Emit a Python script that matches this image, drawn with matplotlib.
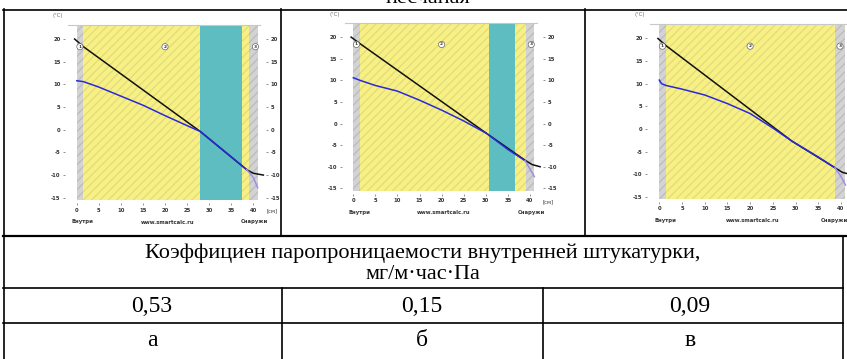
import matplotlib
matplotlib.use("Agg")
import matplotlib.pyplot as plt
from matplotlib.lines import Line2D

W, H = 847, 359

# ---- data ----
y_ticks = [-15, -10, -5, 0, 5, 10, 15, 20]
x_ticks = [0, 5, 10, 15, 20, 25, 30, 35, 40]

# layers: (start, end, kind)
layers_a = [(0, 1.5, "plaster"), (1.5, 28, "sand"), (28, 37.5, "insul"), (37.5, 39, "sand"), (39, 41, "plaster")]
layers_b = [(0, 1.5, "plaster"), (1.5, 30.7, "sand"), (30.7, 36.6, "insul"), (36.6, 39, "sand"), (39, 41, "plaster")]
layers_c = [(0, 1.5, "plaster"), (1.5, 38.7, "sand"), (38.7, 40.8, "plaster")]

# temperature (black)
temp_x_a = [-0.5, 1.5, 28, 38.5, 40, 42.3]
temp_y_a = [20, 18.3, -0.4, -8.8, -9.6, -10.0]
temp_x_b = [-0.5, 1.5, 30.2, 38.9, 40.5, 42.3]
temp_y_b = [20, 18.5, -2.3, -8.5, -9.5, -10.0]
temp_x_c = [-0.3, 1.5, 29.2, 38.7, 40.3, 41.8]
temp_y_c = [20, 18.4, -2.7, -8.6, -9.6, -10.0]

# dew point (blue)
dew_x_a = [0, 1.5, 5, 10, 15, 20, 25, 28, 33, 38.5]
dew_y_a = [10.8, 10.6, 9.4, 7.4, 5.4, 3.1, 0.9, -0.4, -4.4, -8.8]
dew_x_b = [0, 1.5, 5, 10, 15, 20, 25, 30.2, 35, 38.9]
dew_y_b = [10.6, 10.0, 8.8, 7.5, 5.4, 3.1, 0.6, -2.3, -6.0, -8.6]
dew_x_c = [0, 0.5, 1.5, 5, 10, 15, 20, 25, 29.2, 35, 38.7]
dew_y_c = [10.8, 10.0, 9.6, 8.8, 7.5, 5.6, 3.4, 0.2, -2.7, -6.2, -8.6]

# lavender tail of the dew point line
tail_x_a = [38.5, 40, 41]
tail_y_a = [-8.8, -10.5, -12.8]
tail_x_b = [38.9, 40, 41]
tail_y_b = [-8.6, -10.5, -12.3]
tail_x_c = [38.7, 40, 41]
tail_y_c = [-8.6, -10.5, -12.4]

header = "Коэффициен паропроницаемости внутренней штукатурки,\nмг/м·час·Па"
coef_values = ["0,53", "0,15", "0,09"]
case_labels = ["а", "б", "в"]
caption = "песчаная"

colors = {"plaster": "#d3d3d3", "sand": "#f7f083", "insul": "#5dbdc1"}
hatch_colors = {"plaster": "#bdbdbd", "sand": "#e4dc80", "insul": "#5dbdc1"}


def fx(px):
    return px / W


def fy(py):
    return 1 - py / H


def rect(left, top, right, bottom):
    return [fx(left), fy(bottom), (right - left) / W, (bottom - top) / H]


def pt(px):
    return px * 0.72


def draw_chart(fig, box, layers, tx, ty, dx, dy, tlx, tly, circle3_x, cut=False):
    ax = fig.add_axes(rect(*box))
    ax.set_xlim(-2, 41.6)
    ax.set_ylim(-15.5, 23.2)
    for x0, x1, kind in layers:
        ax.axvspan(x0, x1, ymin=0, ymax=1, facecolor=colors[kind],
                   edgecolor=hatch_colors[kind], hatch="////", lw=0, zorder=1)
    ax.plot(tx, ty, color="#111111", lw=1.1, zorder=3, clip_on=False)
    ax.plot(dx, dy, color="#2a2ad8", lw=1.1, zorder=4)
    ax.plot(tlx, tly, color="#9b90e6", lw=1.1, zorder=4, clip_on=False)

    for s in ["left", "right", "bottom"]:
        ax.spines[s].set_visible(False)
    ax.spines["top"].set_color("#c8c8c8")
    ax.spines["top"].set_linewidth(0.8)
    ax.spines["left"].set_position(("outward", pt(3)))
    ax.spines["right"].set_position(("outward", pt(6)))
    ax.spines["bottom"].set_position(("outward", pt(3)))

    ax.set_yticks(y_ticks)
    ax.set_xticks(x_ticks)
    ax.set_yticklabels([str(v) for v in y_ticks])
    ax.set_xticklabels([str(v) for v in x_ticks])
    ax.tick_params(axis="both", labelsize=3.8, colors="#666666", labelcolor="#333333",
                   length=pt(2.5), width=0.5, pad=pt(2))
    ax.tick_params(axis="y", left=True, right=not cut, labelleft=True, labelright=not cut)
    ax.tick_params(axis="x", top=False)
    for lab in ax.get_xticklabels() + ax.get_yticklabels():
        lab.set_fontweight("bold")

    ax.annotate("(°C)", xy=(0, 1), xycoords="axes fraction", xytext=(pt(-10), pt(9)),
                textcoords="offset points", fontsize=3.8, color="#666666",
                ha="center", va="center")
    if not cut:
        ax.annotate("[см]", xy=(44.2, 0), xycoords=("data", "axes fraction"),
                    xytext=(0, pt(-11)), textcoords="offset points", fontsize=3.8,
                    color="#333333", ha="center", va="center", annotation_clip=False)
    bottom_labels = [("Внутри", 1.3, "center"), ("www.smartcalc.ru", 20.5, "center")]
    if cut:
        bottom_labels.append(("Снаружи", 41.5, "right"))
    else:
        bottom_labels.append(("Снаружи", 40.3, "center"))
    for txt, x, ha in bottom_labels:
        ax.annotate(txt, xy=(x, 0), xycoords=("data", "axes fraction"),
                    xytext=(0, pt(-22)), textcoords="offset points", fontsize=3.8,
                    fontweight="bold", color="#333333", ha=ha, va="center",
                    annotation_clip=False)
    for txt, x in [("1", 0.7), ("2", 20), ("3", circle3_x)]:
        ax.text(x, 18.3, txt, fontsize=3.2, fontweight="bold", color="#333333",
                ha="center", va="center", zorder=6, clip_on=False,
                bbox=dict(boxstyle="circle,pad=0.25", fc="white", ec="#666666", lw=0.5))
    return ax


fig = plt.figure(figsize=(W / 100, H / 100), dpi=100)

draw_chart(fig, (68, 24.5, 260.3, 200), layers_a, temp_x_a, temp_y_a,
           dew_x_a, dew_y_a, tail_x_a, tail_y_a, 40.5)
draw_chart(fig, (344.5, 23.3, 537, 190.5), layers_b, temp_x_b, temp_y_b,
           dew_x_b, dew_y_b, tail_x_b, tail_y_b, 40.3)
draw_chart(fig, (650.2, 24, 848.2, 199), layers_c, temp_x_c, temp_y_c,
           dew_x_c, dew_y_c, tail_x_c, tail_y_c, 39.8, cut=True)

# ---- table grid ----
def hline(y, x0, x1, lw=1.2):
    fig.add_artist(Line2D([fx(x0), fx(x1)], [fy(y), fy(y)], color="black",
                          lw=lw, zorder=10, transform=fig.transFigure))


def vline(x, y0, y1, lw=1.2):
    fig.add_artist(Line2D([fx(x), fx(x)], [fy(y0), fy(y1)], color="black",
                          lw=lw, zorder=10, transform=fig.transFigure))


hline(9.5, 3, 847)
hline(235.5, 3, 847, lw=1.6)
hline(288, 3, 843)
hline(323, 3, 843)
vline(3.5, 9, 359)
vline(281, 9, 236)
vline(585, 9, 236)
vline(843, 236, 359)
vline(282, 288, 359)
vline(543, 288, 359)

serif = ["Liberation Serif", "DejaVu Serif"]
# caption of the table above, only its lower edge is inside the picture
fig.text(fx(428), fy(3), caption, fontsize=16, family=serif, ha="center",
         va="baseline", color="black")
fig.text(fx(423), fy(264), header, fontsize=16, family=serif, ha="center",
         va="center", linespacing=1.15, color="black")
for txt, x in zip(coef_values, [152, 422, 690]):
    fig.text(fx(x), fy(306), txt, fontsize=17, family=serif, ha="center",
             va="center", color="black")
for txt, x in zip(case_labels, [152, 422, 690]):
    fig.text(fx(x), fy(341), txt, fontsize=17, family=serif, ha="center",
             va="center", color="black")

fig.savefig("out.png", dpi=100)
